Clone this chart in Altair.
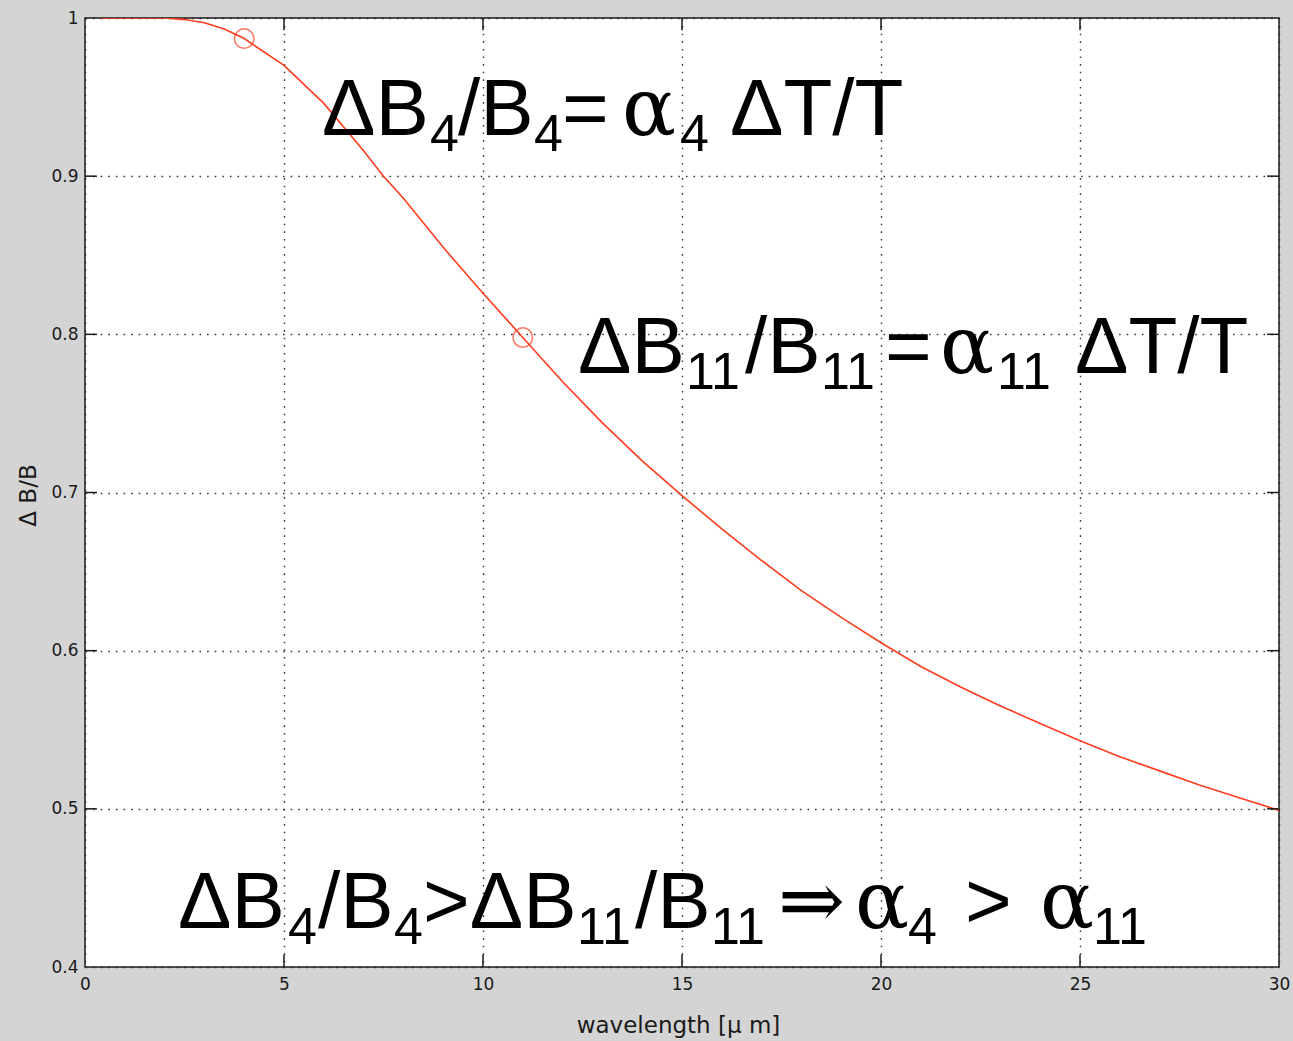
import altair as alt
import pandas as pd

# Relative radiance change versus wavelength
wavelength = [0.4, 1, 2, 2.5, 3, 3.5, 4, 5, 6, 7, 7.5, 8, 9, 10, 11, 12, 13, 14, 15,
              16, 17, 18, 19, 20, 21, 22, 23, 24, 25, 26, 27, 28, 29, 30]
ratio = [1.000, 1.000, 1.000, 0.999, 0.997, 0.993, 0.987, 0.970, 0.946, 0.916, 0.900,
         0.886, 0.855, 0.826, 0.798, 0.770, 0.744, 0.720, 0.698, 0.677, 0.657, 0.638,
         0.621, 0.605, 0.590, 0.577, 0.565, 0.554, 0.543, 0.533, 0.524, 0.515, 0.507, 0.499]

# Highlighted channels (4 µm and 11 µm)
marker_wavelength = [4, 11]
marker_ratio = [0.987, 0.798]

x_ticks = [0, 5, 10, 15, 20, 25, 30]
y_ticks = [0.4, 0.5, 0.6, 0.7, 0.8, 0.9, 1.0]

# Equation annotations: one run of text per segment, anchored in data units.
# kind: "main" = upright sans, "greek" = serif symbol, "sub" = subscript
eq_text = [
    "ΔB", "4", "/B", "4", "=", "α", "4", "ΔT/T",
    "ΔB", "11", "/B", "11", "=", "α", "11", "ΔT/T",
    "ΔB", "4", "/B", "4", ">ΔB", "11", "/B", "11", "⇒", "α", "4", ">", "α", "11",
]
eq_kind = [
    "main", "sub", "main", "sub", "main", "greek", "sub", "main",
    "main", "sub", "main", "sub", "main", "greek", "sub", "main",
    "main", "sub", "main", "sub", "main", "sub", "main", "sub", "greek", "greek", "sub",
    "main", "greek", "sub",
]
eq_x = [
    5.955, 8.668, 9.372, 11.281, 11.985, 13.492, 14.95, 16.206,
    12.387, 15.101, 16.583, 18.492, 20.101, 21.482, 22.915, 24.874,
    2.337, 5.10, 5.854, 7.764, 8.492, 12.362, 13.819, 15.729, 17.412, 19.347, 20.678,
    22.111, 23.995, 25.327,
]
eq_y = [0.926] * 8 + [0.7756] * 8 + [0.4247] * 14

RED = "#ff3d1f"
MAIN_SIZE = 80
SUB_SIZE = 52
TICK_X = 0.3      # inner tick length along x (data units)
TICK_Y = 0.0078   # inner tick length along y (data units)

curve_df = pd.DataFrame({"wavelength": wavelength, "ratio": ratio})
marker_df = pd.DataFrame({"wavelength": marker_wavelength, "ratio": marker_ratio})
eq_df = pd.DataFrame({"text": eq_text, "kind": eq_kind, "wavelength": eq_x, "ratio": eq_y})
xt_df = pd.DataFrame({"wavelength": x_ticks[1:-1]})
yt_df = pd.DataFrame({"ratio": y_ticks[1:-1]})

x_scale = alt.Scale(domain=[0, 30], nice=False, zero=False)
y_scale = alt.Scale(domain=[0.4, 1.0], nice=False, zero=False)

x_axis = alt.Axis(
    values=x_ticks, title="wavelength [μ m]", labelPadding=9, labelFlush=False,
    titleX=593, titleY=58, titleBaseline="middle", titleAnchor="start", titleAlign="center",
)
y_axis = alt.Axis(
    values=y_ticks, format="~g", title="Δ B/B", labelPadding=7, labelFlush=False,
    titleX=-57, titleY=477, titleBaseline="middle", titleAlign="center", titleAngle=270,
)


def X(field="wavelength"):
    return alt.X(f"{field}:Q", scale=x_scale, axis=x_axis)


def Y(field="ratio"):
    return alt.Y(f"{field}:Q", scale=y_scale, axis=y_axis)


curve = alt.Chart(curve_df).mark_line(color=RED, strokeWidth=1.6, clip=True).encode(
    x=X(), y=Y()
)

markers = alt.Chart(marker_df).mark_point(
    shape="circle", filled=False, color=RED, size=380, strokeWidth=1.5
).encode(x=X(), y=Y())

# Inward-pointing ticks on all four sides of the box
tick_style = dict(color="#1a1a1a", strokeWidth=1.5)
ticks_bottom = alt.Chart(xt_df).mark_rule(**tick_style).encode(
    x=X(), y=alt.datum(0.4), y2=alt.datum(0.4 + TICK_Y))
ticks_top = alt.Chart(xt_df).mark_rule(**tick_style).encode(
    x=X(), y=alt.datum(1.0), y2=alt.datum(1.0 - TICK_Y))
ticks_left = alt.Chart(yt_df).mark_rule(**tick_style).encode(
    y=Y(), x=alt.datum(0), x2=alt.datum(TICK_X))
ticks_right = alt.Chart(yt_df).mark_rule(**tick_style).encode(
    y=Y(), x=alt.datum(30), x2=alt.datum(30 - TICK_X))

eq_base = alt.Chart(eq_df)
eq_main = eq_base.transform_filter(alt.datum.kind == "main").mark_text(
    align="left", baseline="alphabetic", font="Liberation Sans", fontSize=MAIN_SIZE, color="black"
).encode(x=X(), y=Y(), text="text:N")
eq_greek = eq_base.transform_filter(alt.datum.kind == "greek").mark_text(
    align="left", baseline="alphabetic", font="DejaVu Serif", fontSize=MAIN_SIZE, color="black"
).encode(x=X(), y=Y(), text="text:N")
eq_sub = eq_base.transform_filter(alt.datum.kind == "sub").mark_text(
    align="left", baseline="alphabetic", font="Liberation Sans", fontSize=SUB_SIZE, color="black", dy=16
).encode(x=X(), y=Y(), text="text:N")

chart = alt.layer(
    curve, markers, ticks_bottom, ticks_top, ticks_left, ticks_right, eq_main, eq_greek, eq_sub
).properties(
    width=1194,
    height=949,
    autosize=alt.AutoSizeParams(type="none"),
    padding={"left": 85, "top": 18, "right": 14, "bottom": 74},
).configure(
    background="#d4d4d4",
).configure_view(
    fill="white", stroke="#1a1a1a", strokeWidth=1.5,
).configure_axis(
    grid=True, gridColor="#222222", gridDash=[1.6, 6], gridWidth=1.4, gridOpacity=0.9,
    ticks=False, domain=False,
    labelFont="DejaVu Sans", labelFontSize=17, labelColor="#1a1a1a",
    titleFont="DejaVu Sans", titleFontSize=23, titleFontWeight="normal", titleColor="#1a1a1a",
)

chart.save("out.html", embed_options={"renderer": "svg", "actions": False})
